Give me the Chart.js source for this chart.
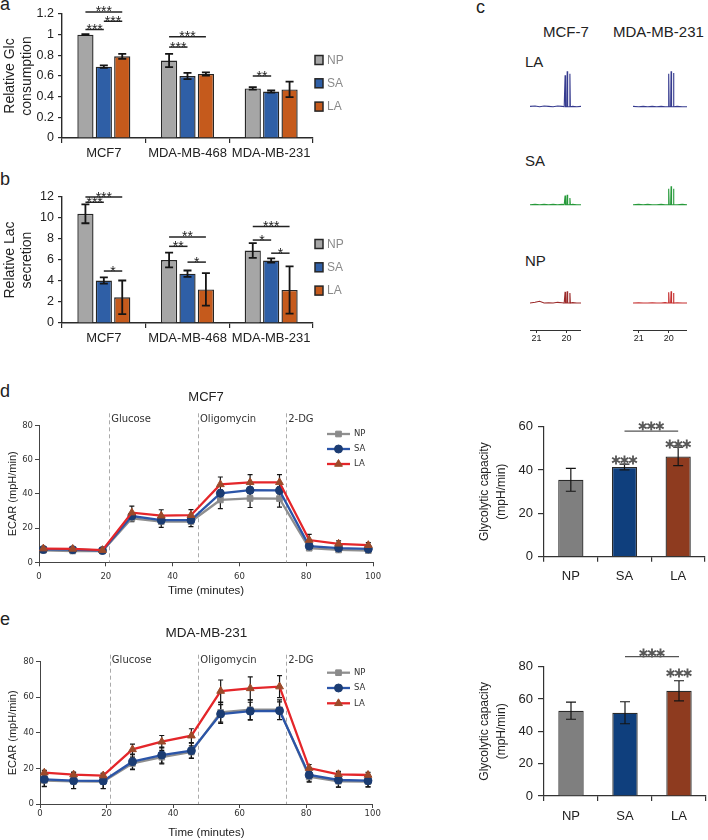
<!DOCTYPE html>
<html>
<head>
<meta charset="utf-8">
<script src="https://cdn.jsdelivr.net/npm/chart.js@4.4.1/dist/chart.umd.min.js"></script>
<style>
  html, body { margin: 0; padding: 0; background: #fff; }
  #fig { position: relative; width: 708px; height: 840px; overflow: hidden;
         font-family: 'Liberation Sans', Arial, sans-serif; color: #222; }
  #fig canvas { position: absolute; }
  .lbl { position: absolute; line-height: 1; white-space: nowrap; }
  .letter { font-size: 18px; }
  .head { font-size: 15px; }
</style>
</head>
<body>
<div id="fig">
  <div class="lbl letter" style="left:0;top:-5px">a</div>
  <div class="lbl letter" style="left:0;top:170px">b</div>
  <div class="lbl letter" style="left:476px;top:-2px">c</div>
  <div class="lbl letter" style="left:0;top:382px">d</div>
  <div class="lbl letter" style="left:0;top:610px">e</div>
  <div class="lbl head" style="left:543px;top:24px">MCF-7</div>
  <div class="lbl head" style="left:613px;top:24px">MDA-MB-231</div>
  <div class="lbl head" style="left:525px;top:54px">LA</div>
  <div class="lbl head" style="left:525px;top:153px">SA</div>
  <div class="lbl head" style="left:525px;top:253px">NP</div>
</div>
<script>
(function () {
  'use strict';

  // ---- data -------------------------------------------------------------
  var cellLines = ['MCF7', 'MDA-MB-468', 'MDA-MB-231'];
  var groups = ['NP', 'SA', 'LA'];

  // a: relative glucose consumption
  var glcNP = [1.0, 0.75, 0.48];
  var glcSA = [0.69, 0.60, 0.45];
  var glcLA = [0.79, 0.62, 0.47];
  var glcErrNP = [0.005, 0.065, 0.012];
  var glcErrSA = [0.012, 0.03, 0.01];
  var glcErrLA = [0.025, 0.015, 0.075];
  // [cell line, from group, to group, height, label]
  var glcSig = [
    [0, 0, 2, 1.22, '***'], [0, 1, 2, 1.13, '***'], [0, 0, 1, 1.05, '***'],
    [1, 0, 2, 0.98, '***'], [1, 0, 1, 0.88, '***'],
    [2, 0, 1, 0.60, '**']
  ];

  // b: relative lactate secretion
  var lacNP = [10.4, 6.0, 6.9];
  var lacSA = [4.05, 4.7, 5.95];
  var lacLA = [2.45, 3.2, 3.15];
  var lacErrNP = [0.9, 0.7, 0.7];
  var lacErrSA = [0.3, 0.3, 0.2];
  var lacErrLA = [1.6, 1.55, 2.25];
  var lacSig = [
    [0, 0, 2, 12.0, '***'], [0, 0, 1, 11.5, '***'], [0, 1, 2, 4.95, '*'],
    [1, 0, 2, 8.2, '**'], [1, 0, 1, 7.3, '**'], [1, 1, 2, 5.8, '*'],
    [2, 0, 2, 9.2, '***'], [2, 0, 1, 7.9, '*'], [2, 1, 2, 6.65, '*']
  ];

  // c: 13C spectra (ppm, relative intensity)
  var mcfShift = [21.22, 21.05, 20.9, 20.75, 20.6, 20.45, 20.3, 20.15, 20.08, 20.065, 20.05,
                  20.035, 19.995, 19.98, 19.965, 19.905, 19.89, 19.875, 19.8, 19.66, 19.52];
  var mcfLA = [0.01, 0.02, 0.0, 0.02, 0.01, 0.0, 0.02, 0.01, 0.0, 0.0, 0.89,
               0.0, 0.0, 1.0, 0.0, 0.0, 0.93, 0.0, 0.01, 0.0, 0.01];
  var mcfSA = [0.0, 0.01, 0.0, 0.01, 0.0, 0.01, 0.0, 0.01, 0.0, 0.0, 0.26,
               0.0, 0.0, 0.28, 0.0, 0.0, 0.19, 0.0, 0.01, 0.0, 0.0];
  var mcfNP = [0.0, 0.02, 0.05, 0.0, 0.01, 0.0, 0.02, 0.01, 0.0, 0.0, 0.32,
               0.0, 0.0, 0.34, 0.0, 0.0, 0.29, 0.0, 0.01, 0.0, 0.0];
  var mdaShift = [21.19, 21.0, 20.85, 20.7, 20.55, 20.4, 20.25, 20.12, 20.03, 20.015, 20.0,
                  19.985, 19.935, 19.92, 19.905, 19.855, 19.84, 19.825, 19.72, 19.55, 19.39];
  var mdaLA = [0.01, 0.0, 0.01, 0.0, 0.01, 0.0, 0.01, 0.0, 0.0, 0.0, 0.93,
               0.0, 0.0, 1.0, 0.0, 0.0, 0.95, 0.0, 0.01, 0.0, 0.0];
  var mdaSA = [0.0, 0.01, 0.0, 0.01, 0.0, 0.0, 0.01, 0.0, 0.0, 0.0, 0.45,
               0.0, 0.0, 0.52, 0.0, 0.0, 0.45, 0.0, 0.0, 0.01, 0.0];
  var mdaNP = [0.0, 0.01, 0.0, 0.0, 0.01, 0.0, 0.0, 0.01, 0.0, 0.0, 0.31,
               0.0, 0.0, 0.34, 0.0, 0.0, 0.29, 0.0, 0.01, 0.0, 0.0];

  // d/e: ECAR time course
  var times = [1.3, 10.1, 19.0, 27.8, 36.6, 45.5, 54.3, 63.2, 72.0, 80.9, 89.7, 98.6];
  var injectionTimes = [21, 47.6, 74];
  var injectionNames = ['Glucose', 'Oligomycin', '2-DG'];

  var mcfEcarNP = [7.0, 6.6, 6.5, 25.7, 23.7, 23.8, 36.4, 37.3, 37.2, 8.2, 7.2, 6.8];
  var mcfEcarSA = [7.5, 7.4, 6.9, 27.0, 24.6, 24.7, 40.3, 42.1, 42.0, 9.5, 8.3, 7.8];
  var mcfEcarLA = [8.0, 7.8, 7.1, 29.0, 27.2, 27.5, 45.5, 46.7, 46.7, 13.0, 10.8, 10.0];
  var mcfEcarErrNP = [1.2, 1.2, 1.0, 2.0, 3.3, 3.0, 5.0, 5.3, 5.0, 1.2, 1.0, 1.0];
  var mcfEcarErrSA = [1.0, 1.0, 0.8, 1.5, 1.5, 1.5, 2.0, 2.0, 2.0, 1.0, 1.0, 1.0];
  var mcfEcarErrLA = [1.0, 0.8, 0.8, 3.8, 3.5, 3.3, 4.3, 4.5, 4.5, 3.3, 1.7, 1.5];

  var mdaEcarNP = [13.2, 12.7, 12.6, 22.8, 26.3, 29.2, 51.5, 53.0, 53.0, 15.3, 12.8, 12.6];
  var mdaEcarSA = [13.9, 13.1, 13.0, 23.8, 27.5, 30.0, 50.6, 52.2, 52.4, 16.3, 13.5, 13.1];
  var mdaEcarLA = [17.6, 16.5, 16.0, 30.7, 35.0, 38.4, 63.5, 65.0, 66.0, 20.2, 16.7, 16.3];
  var mdaEcarErrNP = [3.5, 4.0, 4.0, 3.5, 3.8, 3.5, 5.5, 5.5, 5.5, 3.0, 3.3, 3.0];
  var mdaEcarErrSA = [4.0, 4.5, 4.3, 4.2, 4.5, 4.2, 5.3, 5.0, 5.0, 3.5, 4.0, 3.5];
  var mdaEcarErrLA = [1.3, 1.5, 1.2, 3.0, 3.5, 3.9, 6.2, 6.5, 6.2, 2.0, 1.6, 1.5];

  // d/e right: glycolytic capacity
  var capMcf = [35.5, 41.4, 46.3];
  var capMcfErr = [5.3, 1.3, 4.3];
  var capMda = [52.8, 51.5, 65.1];
  var capMdaErr = [5.3, 6.8, 6.2];
  // [from group, to group, height, label]; same group = label only
  var capMcfSig = [[1, 1, 45.1, '***'], [2, 2, 52.5, '***'], [1, 2, 58.0, '***']];
  var capMdaSig = [[2, 2, 76.9, '***'], [1, 2, 86.2, '***']];

  // ---- styling ------------------------------------------------------------
  var SANS = "'Liberation Sans', Arial, sans-serif";
  var NARROW = "'Liberation Sans Narrow', 'Liberation Sans', Arial, sans-serif";
  var VERD = "'DejaVu Sans', Verdana, sans-serif";
  var groupFill = ['#a6a6a6', '#2f5fa6', '#c55a1c'];
  var capFill = ['#7f7f7f', '#0f3f7d', '#8e3b1f'];
  var lineColors = ['#8f8f8f', '#2b55a8', '#e4262a'];
  var markerColors = ['#8a8a8a', '#1b3c72', '#9c4a2a'];
  var pointStyles = ['rect', 'circle', 'triangle'];
  var pointRadius = [4, 4, 4.5];

  Chart.defaults.font.family = SANS;
  Chart.defaults.color = '#222';
  Chart.defaults.animation = false;
  Chart.defaults.responsive = false;
  Chart.defaults.maintainAspectRatio = false;
  Chart.defaults.plugins.legend.display = false;
  Chart.defaults.plugins.tooltip.enabled = false;

  var fig = document.getElementById('fig');
  function addCanvas(left, top, w, h) {
    var c = document.createElement('canvas');
    c.width = w; c.height = h;
    c.style.left = left + 'px'; c.style.top = top + 'px';
    c.style.width = w + 'px'; c.style.height = h + 'px';
    fig.appendChild(c);
    return c;
  }

  // ---- plugins ------------------------------------------------------------
  function drawErrorBars(chart, o) {
    var ctx = chart.ctx, ys = chart.scales.y;
    ctx.save();
    ctx.strokeStyle = o.color;
    ctx.lineWidth = o.width;
    chart.data.datasets.forEach(function (ds, i) {
      if (!ds.errors) return;
      chart.getDatasetMeta(i).data.forEach(function (el, j) {
        var d = ds.data[j];
        var v = typeof d === 'object' ? d.y : d;
        var top = ys.getPixelForValue(v + ds.errors[j]);
        var bot = ys.getPixelForValue(v - ds.errors[j]);
        var x = el.x;
        ctx.beginPath();
        ctx.moveTo(x, top); ctx.lineTo(x, bot);
        ctx.moveTo(x - o.cap, top); ctx.lineTo(x + o.cap, top);
        ctx.moveTo(x - o.cap, bot); ctx.lineTo(x + o.cap, bot);
        ctx.stroke();
      });
    });
    ctx.restore();
  }
  var errorBarsPlugin = {
    id: 'errorBars',
    defaults: { behind: false, cap: 4, color: '#151515', width: 1.5 },
    beforeDatasetsDraw: function (chart, args, o) { if (o.behind) drawErrorBars(chart, o); },
    afterDatasetsDraw: function (chart, args, o) { if (!o.behind) drawErrorBars(chart, o); }
  };

  var sigPlugin = {
    id: 'sig',
    defaults: { items: [], font: '14px sans-serif', color: '#222', lineWidth: 1.5,
                shift: 4.5, midShift: 8, hollow: false },
    afterDatasetsDraw: function (chart, args, o) {
      var ctx = chart.ctx, ys = chart.scales.y;
      ctx.save();
      ctx.font = o.font;
      ctx.textAlign = 'center';
      ctx.textBaseline = 'alphabetic';
      o.items.forEach(function (it) {
        var xa = chart.getDatasetMeta(it.a[0]).data[it.a[1]].x;
        var xb = chart.getDatasetMeta(it.b[0]).data[it.b[1]].x;
        var py = ys.getPixelForValue(it.y);
        var line = xa !== xb;
        if (line) {
          ctx.strokeStyle = o.color;
          ctx.lineWidth = o.lineWidth;
          ctx.beginPath(); ctx.moveTo(xa, py); ctx.lineTo(xb, py); ctx.stroke();
        }
        var cx = (xa + xb) / 2, ty = py + (line ? o.shift : o.midShift);
        if (o.hollow) {
          ctx.fillStyle = '#fff';
          ctx.fillText(it.text, cx, ty);
          ctx.strokeStyle = o.color;
          ctx.lineWidth = 0.9;
          ctx.strokeText(it.text, cx, ty);
        } else {
          ctx.fillStyle = o.color;
          ctx.fillText(it.text, cx, ty);
        }
      });
      ctx.restore();
    }
  };

  var boxLegendPlugin = {
    id: 'boxLegend',
    afterDraw: function (chart, args, o) {
      var ctx = chart.ctx;
      ctx.save();
      chart.data.datasets.forEach(function (ds, i) {
        var y = o.y + i * o.dy;
        ctx.fillStyle = ds.backgroundColor;
        ctx.fillRect(o.x, y - 4.5, 8, 9);
        ctx.strokeStyle = '#262626';
        ctx.lineWidth = 1.5;
        ctx.strokeRect(o.x, y - 4.5, 8, 9);
        ctx.fillStyle = '#8a8a8a';
        ctx.font = '12px ' + SANS;
        ctx.textBaseline = 'middle';
        ctx.textAlign = 'left';
        ctx.fillText(ds.label, o.x + 12, y + 0.5);
      });
      ctx.restore();
    }
  };

  var lineLegendPlugin = {
    id: 'lineLegend',
    afterDraw: function (chart, args, o) {
      var ctx = chart.ctx;
      ctx.save();
      chart.data.datasets.forEach(function (ds, i) {
        var y = o.y + i * o.dy;
        ctx.strokeStyle = ds.borderColor;
        ctx.lineWidth = ds.borderWidth;
        ctx.beginPath(); ctx.moveTo(o.x, y); ctx.lineTo(o.x + o.len, y); ctx.stroke();
        ctx.fillStyle = ds.pointBackgroundColor;
        ctx.strokeStyle = ds.pointBorderColor;
        ctx.lineWidth = 1;
        Chart.helpers.drawPoint(ctx, { pointStyle: ds.pointStyle, radius: ds.pointRadius,
          borderWidth: 1, rotation: 0 }, o.x + o.len / 2, y);
        ctx.fillStyle = '#333';
        ctx.font = '8.5px ' + VERD;
        ctx.textBaseline = 'middle';
        ctx.textAlign = 'left';
        ctx.fillText(ds.label, o.x + o.len + 4, y);
      });
      ctx.restore();
    }
  };

  var injectionPlugin = {
    id: 'injections',
    beforeDatasetsDraw: function (chart, args, o) {
      var ctx = chart.ctx, area = chart.chartArea, xs = chart.scales.x;
      ctx.save();
      ctx.strokeStyle = '#aaaaaa';
      ctx.lineWidth = 1;
      ctx.setLineDash([4, 3]);
      injectionTimes.forEach(function (t) {
        var px = Math.round(xs.getPixelForValue(t)) + 0.5;
        ctx.beginPath(); ctx.moveTo(px, area.top - o.above); ctx.lineTo(px, area.bottom); ctx.stroke();
      });
      ctx.setLineDash([]);
      ctx.fillStyle = '#333';
      ctx.font = '10px ' + VERD;
      ctx.textBaseline = 'middle';
      ctx.textAlign = 'left';
      injectionNames.forEach(function (name, i) {
        ctx.fillText(name, xs.getPixelForValue(injectionTimes[i]) + 2, area.top - o.labelUp);
      });
      ctx.restore();
    }
  };

  var axisGrid = { drawOnChartArea: false, drawTicks: true, color: '#2a2a2a', lineWidth: 1.2 };
  var axisBorder = { display: true, color: '#2a2a2a', width: 1.4 };

  // ---- a / b ----------------------------------------------------------------
  function cellBarChart(cv, means, errs, sig, o) {
    return new Chart(cv, {
      type: 'bar',
      data: {
        labels: cellLines,
        datasets: groups.map(function (g, i) {
          return {
            label: g, data: means[i], errors: errs[i],
            backgroundColor: groupFill[i], borderColor: '#262626', borderWidth: 1.4,
            categoryPercentage: 0.66, barPercentage: 0.88
          };
        })
      },
      options: {
        layout: { padding: { top: o.padTop, right: 32, left: 0, bottom: 0 } },
        scales: {
          x: {
            grid: Object.assign({ tickLength: 5 }, axisGrid), border: axisBorder,
            ticks: { font: { size: 13 }, color: '#222', padding: 3,
                     autoSkip: false, maxRotation: 0, minRotation: 0 },
            afterFit: function (s) { s.height = o.xH; }
          },
          y: {
            min: 0, max: o.max,
            grid: Object.assign({ tickLength: 4 }, axisGrid), border: axisBorder,
            ticks: { stepSize: o.step, font: { size: 12.5 }, color: '#222', padding: 4,
                     callback: function (v) { return String(Number(v.toFixed(2))); } },
            title: { display: true, text: o.title, font: { size: 14 }, color: '#222',
                     padding: { top: 2, bottom: 0 } },
            afterFit: function (s) { s.width = 62; }
          }
        },
        plugins: {
          errorBars: { cap: 4, width: 1.8 },
          sig: {
            font: '14px ' + SANS, shift: 4.5,
            items: sig.map(function (r) {
              return { a: [r[1], r[0]], b: [r[2], r[0]], y: r[3], text: r[4] };
            })
          },
          boxLegend: { x: 315, y: o.legY, dy: 23.3 }
        }
      },
      plugins: [errorBarsPlugin, sigPlugin, boxLegendPlugin]
    });
  }

  cellBarChart(addCanvas(0, 0, 345, 160), [glcNP, glcSA, glcLA], [glcErrNP, glcErrSA, glcErrLA], glcSig,
    { padTop: 14, xH: 22, max: 1.2, step: 0.2, title: ['Relative Glc', 'consumption'], legY: 60 });
  cellBarChart(addCanvas(0, 170, 345, 185), [lacNP, lacSA, lacLA], [lacErrNP, lacErrSA, lacErrLA], lacSig,
    { padTop: 27, xH: 32, max: 12, step: 2, title: ['Relative Lac', 'secretion'], legY: 74 });

  // ---- c ----------------------------------------------------------------------
  function spectrumChart(cv, shifts, intens, color, range, withAxis, yMin) {
    var xScale = {
      type: 'linear', reverse: true, min: range[0], max: range[1], display: withAxis,
      afterBuildTicks: function (s) { s.ticks = [{ value: 21 }, { value: 20 }]; },
      grid: { drawOnChartArea: false, tickLength: 3, color: '#333' },
      border: { color: '#333', width: 1 },
      ticks: { font: { size: 9 }, color: '#222', padding: 0 }
    };
    if (withAxis) xScale.afterFit = function (s) { s.height = 16; };
    return new Chart(cv, {
      type: 'line',
      data: {
        datasets: [{
          data: shifts.map(function (s, i) { return { x: s, y: intens[i] }; }),
          borderColor: color, borderWidth: 1.1, pointRadius: 0, tension: 0, fill: false
        }]
      },
      options: {
        layout: { padding: 0 },
        scales: { x: xScale, y: { display: false, min: yMin, max: 1.15 } }
      }
    });
  }
  var mcfRange = [19.52, 21.22], mdaRange = [19.39, 21.19];
  spectrumChart(addCanvas(530, 66, 51, 46), mcfShift, mcfLA, '#363b8f', mcfRange, false, -0.15);
  spectrumChart(addCanvas(633, 66, 54, 46), mdaShift, mdaLA, '#363b8f', mdaRange, false, -0.15);
  spectrumChart(addCanvas(530, 164, 51, 46), mcfShift, mcfSA, '#26993a', mcfRange, false, -0.15);
  spectrumChart(addCanvas(633, 164, 54, 46), mdaShift, mdaSA, '#26993a', mdaRange, false, -0.15);
  spectrumChart(addCanvas(530, 263, 51, 83), mcfShift, mcfNP, '#9b2a2a', mcfRange, true, -0.775);
  spectrumChart(addCanvas(633, 263, 54, 83), mdaShift, mdaNP, '#c52e2e', mdaRange, true, -0.775);

  // ---- d / e ECAR -------------------------------------------------------------
  function ecarChart(cv, title, series, errs, o) {
    return new Chart(cv, {
      type: 'line',
      data: {
        datasets: groups.map(function (g, i) {
          return {
            label: g,
            data: times.map(function (t, j) { return { x: t, y: series[i][j] }; }),
            errors: errs[i],
            borderColor: lineColors[i], borderWidth: 2.3,
            pointStyle: pointStyles[i], pointRadius: pointRadius[i],
            pointBackgroundColor: markerColors[i], pointBorderColor: markerColors[i],
            pointBorderWidth: 1, tension: 0, order: 3 - i
          };
        })
      },
      options: {
        layout: { padding: { top: 0, right: o.padRight, left: 0, bottom: 0 } },
        scales: {
          x: {
            type: 'linear', min: 0, max: 100,
            grid: { drawOnChartArea: false, tickLength: 4, color: '#444' },
            border: { color: '#444', width: 1 },
            ticks: { stepSize: 20, font: { family: VERD, size: 8.5 }, color: '#333', padding: o.xTickPad },
            title: { display: true, text: 'Time (minutes)', font: { size: 11.5 }, color: '#222',
                     padding: { top: 0, bottom: o.xTitlePad } },
            afterFit: function (s) { s.height = o.xH; }
          },
          y: {
            min: 0, max: 80,
            grid: { drawOnChartArea: false, tickLength: 4, color: '#444' },
            border: { color: '#444', width: 1 },
            ticks: { stepSize: 20, font: { family: VERD, size: 8.5 }, color: '#333', padding: 2 },
            title: { display: true, text: 'ECAR (mpH/min)', font: { size: 11 }, color: '#222',
                     padding: { top: 6, bottom: 0 } },
            afterFit: function (s) { s.width = o.yW; }
          }
        },
        plugins: {
          title: { display: true, text: title, fullSize: false, color: '#222',
                   font: { size: o.titleSize, weight: 'normal' },
                   padding: { top: o.tTop, bottom: o.tBottom } },
          errorBars: { behind: true, cap: 2.5, width: 1.2 },
          injections: { above: o.above, labelUp: o.labelUp },
          lineLegend: { x: 327, y: o.legY, dy: o.legDy, len: 23 }
        }
      },
      plugins: [errorBarsPlugin, injectionPlugin, lineLegendPlugin]
    });
  }

  ecarChart(addCanvas(0, 385, 440, 217), 'MCF7',
    [mcfEcarNP, mcfEcarSA, mcfEcarLA], [mcfEcarErrNP, mcfEcarErrSA, mcfEcarErrLA],
    { padRight: 67, xTickPad: 5, xTitlePad: 4, xH: 39.7, yW: 39, titleSize: 13,
      tTop: 5, tBottom: 19.7, above: 12, labelUp: 6, legY: 49, legDy: 15 });
  ecarChart(addCanvas(0, 600, 440, 240), 'MDA-MB-231',
    [mdaEcarNP, mdaEcarSA, mdaEcarLA], [mdaEcarErrNP, mdaEcarErrSA, mdaEcarErrLA],
    { padRight: 67.3, xTickPad: 1, xTitlePad: 0, xH: 36, yW: 40, titleSize: 13.5,
      tTop: 24.9, tBottom: 20.6, above: 7, labelUp: 1, legY: 72.7, legDy: 15.3 });

  // ---- d / e glycolytic capacity ------------------------------------------------
  function capacityChart(cv, means, errs, sig, o) {
    return new Chart(cv, {
      type: 'bar',
      data: {
        labels: groups,
        datasets: [{
          data: means, errors: errs, backgroundColor: capFill,
          borderColor: '#2a2a2a', borderWidth: 1.3,
          categoryPercentage: 0.5, barPercentage: 0.94
        }]
      },
      options: {
        layout: { padding: { top: o.padTop, right: o.padRight, left: 0, bottom: 0 } },
        scales: {
          x: {
            grid: { drawOnChartArea: false, tickLength: 5, color: '#333', lineWidth: 1.2 },
            border: { color: '#333', width: 1.2 },
            ticks: { font: { size: 13 }, color: '#222', padding: o.xPad },
            afterFit: function (s) { s.height = o.xH; }
          },
          y: {
            min: 0, max: o.max,
            grid: { drawOnChartArea: false, tickLength: 6, color: '#333', lineWidth: 1.2 },
            border: { color: '#333', width: 1.2 },
            ticks: { stepSize: 20, font: { size: 13 }, color: '#222', padding: 5 },
            title: { display: true, text: ['Glycolytic capacity', '(mpH/min)'], color: '#222',
                     font: { family: NARROW, size: 12, lineHeight: 1.4 },
                     padding: { top: 6.6, bottom: 0 } },
            afterFit: function (s) { s.width = 74; }
          }
        },
        plugins: {
          errorBars: { cap: 5, width: 1.2 },
          sig: {
            font: '17px ' + VERD, color: '#555', hollow: true, lineWidth: 1.2,
            shift: o.starShift, midShift: 10,
            items: sig.map(function (r) {
              return { a: [0, r[0]], b: [0, r[1]], y: r[2], text: r[3] };
            })
          }
        }
      },
      plugins: [errorBarsPlugin, sigPlugin]
    });
  }

  capacityChart(addCanvas(470, 385, 238, 215), capMcf, capMcfErr, capMcfSig,
    { padTop: 41.7, padRight: 3, xH: 43.3, xPad: 6.5, max: 60, starShift: 4 });
  capacityChart(addCanvas(470, 620, 238, 220), capMda, capMdaErr, capMdaSig,
    { padTop: 46.7, padRight: 2, xH: 44, xPad: 7.9, max: 80, starShift: 5 });
})();
</script>
</body>
</html>
